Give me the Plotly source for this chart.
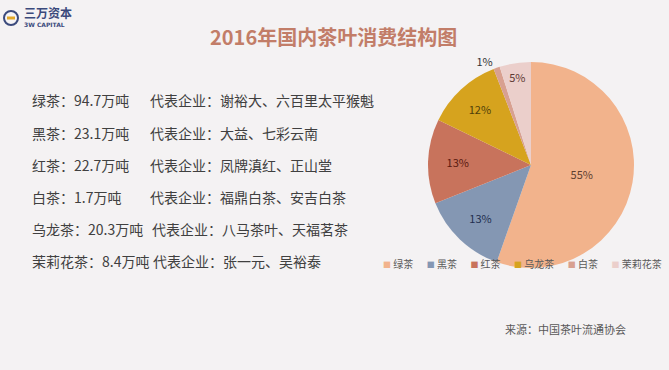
import plotly.graph_objects as go

# ---- data ----
tea_types = ["绿茶", "黑茶", "红茶", "乌龙茶", "白茶", "茉莉花茶"]
consumption_wan_ton = [94.7, 23.1, 22.7, 20.3, 1.7, 8.4]
pie_labels_pct = ["55%", "13%", "13%", "12%", "1%", "5%"]
companies = ["谢裕大、六百里太平猴魁", "大益、七彩云南", "凤牌滇红、正山堂",
             "八马茶叶、天福茗茶", "福鼎白茶、安吉白茶", "张一元、吴裕泰"]
list_order = ["绿茶", "黑茶", "红茶", "白茶", "乌龙茶", "茉莉花茶"]

slice_colors = ["#F2B38C", "#8497B3", "#C8735C", "#D6A31E", "#D8A090", "#EBCFCB"]
text_colors = ["#5E4030", "#1F2E4F", "#5A1A10", "#4F3F0A", "#333333", "#5E3A33"]

FONT = "Noto Sans CJK SC"
W, H = 669, 370

fig = go.Figure()
fig.add_trace(go.Pie(
    labels=tea_types,
    values=consumption_wan_ton,
    text=pie_labels_pct,
    textinfo="text",
    textposition=["inside", "inside", "inside", "inside", "outside", "inside"],
    insidetextorientation="horizontal",
    textfont=dict(size=11, color=text_colors, family=FONT),
    outsidetextfont=dict(size=11, color="#333333", family=FONT),
    marker=dict(colors=slice_colors, line=dict(width=0)),
    sort=False,
    direction="clockwise",
    rotation=0,
    domain=dict(x=[428 / W, 634 / W], y=[1 - 268 / H, 1 - 62 / H]),
    hoverinfo="label+value+percent",
    showlegend=False,
    automargin=False,
))

annotations = []
# title
annotations.append(dict(
    x=333 / W, y=1 - 36 / H, xref="paper", yref="paper", xanchor="center", yanchor="middle",
    text="<b>2016年国内茶叶消费结构图</b>", showarrow=False,
    font=dict(size=20, color="#C27D68", family=FONT)))

# left list
row_y = [100, 133, 165, 197, 229, 261]
col2_x = [148, 148, 148, 148, 150, 151]
for name, y, cx in zip(list_order, row_y, col2_x):
    i = tea_types.index(name)
    annotations.append(dict(
        x=30 / W, y=1 - y / H, xref="paper", yref="paper", xanchor="left", yanchor="middle",
        text=f"{name}：{consumption_wan_ton[i]}万吨", showarrow=False,
        font=dict(size=14, color="#404040", family=FONT)))
    annotations.append(dict(
        x=cx / W, y=1 - y / H, xref="paper", yref="paper", xanchor="left", yanchor="middle",
        text=f"代表企业：{companies[i]}", showarrow=False,
        font=dict(size=14, color="#404040", family=FONT)))

# legend row (compact, like the original office-chart legend)
gap = "\u00a0" * 6
legend_text = gap.join(
    f"<span style='color:{c};font-size:8px'>■</span>\u00a0{n}" for n, c in zip(tea_types, slice_colors))
annotations.append(dict(
    x=381 / W, y=1 - 263 / H, xref="paper", yref="paper", xanchor="left", yanchor="middle",
    text=legend_text, showarrow=False,
    font=dict(size=10, color="#595959", family=FONT)))

# source
annotations.append(dict(
    x=628 / W, y=1 - 329 / H, xref="paper", yref="paper", xanchor="right", yanchor="middle",
    text="来源：中国茶叶流通协会", showarrow=False,
    font=dict(size=11, color="#595959", family=FONT)))

# logo text
annotations.append(dict(
    x=22 / W, y=1 - 13 / H, xref="paper", yref="paper", xanchor="left", yanchor="middle",
    text="<b>三万资本</b>", showarrow=False,
    font=dict(size=12, color="#3B4A7C", family=FONT)))
annotations.append(dict(
    x=22 / W, y=1 - 25 / H, xref="paper", yref="paper", xanchor="left", yanchor="middle",
    text="<b>3W CAPITAL</b>", showarrow=False,
    font=dict(size=6, color="#3B4A7C", family="DejaVu Sans")))

shapes = [
    dict(type="circle", xref="paper", yref="paper",
         x0=4 / W, x1=18 / W, y0=1 - 25 / H, y1=1 - 11 / H,
         line=dict(color="#3B4A7C", width=2), fillcolor="#F6F4F5"),
    dict(type="rect", xref="paper", yref="paper",
         x0=7 / W, x1=15 / W, y0=1 - 19.5 / H, y1=1 - 16.5 / H,
         line=dict(width=0), fillcolor="#E3A92A"),
]

fig.update_layout(
    width=W, height=H,
    margin=dict(l=0, r=0, t=0, b=0, autoexpand=False),
    paper_bgcolor="#F4F2F3",
    plot_bgcolor="#F4F2F3",
    font=dict(family=FONT),
    annotations=annotations,
    shapes=shapes,
    showlegend=False,
)

fig.write_html("out.html")
